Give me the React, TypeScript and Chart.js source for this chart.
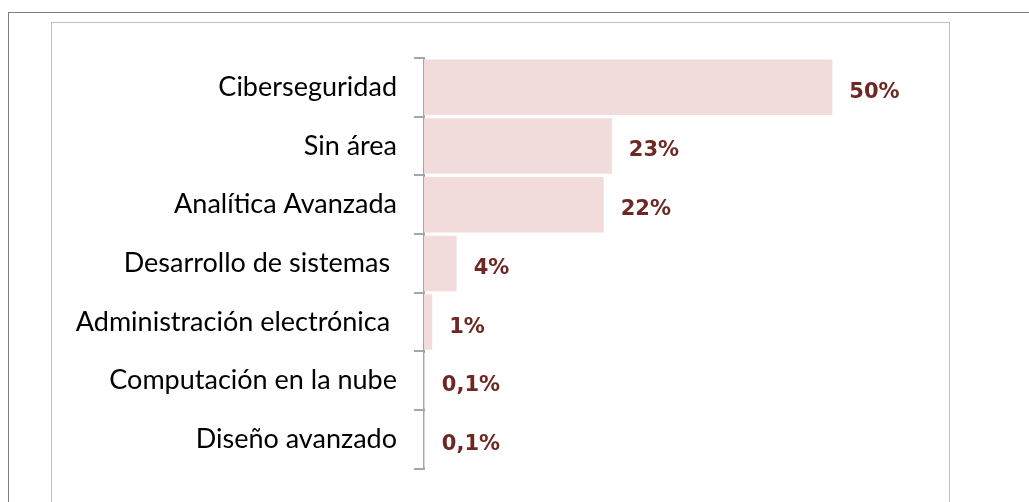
import React, { useEffect, useRef } from "react";
import { Chart, registerables } from "chart.js";

Chart.register(...registerables);

const categories = [
  "Ciberseguridad",
  "Sin área",
  "Analítica Avanzada",
  "Desarrollo de sistemas ",
  "Administración electrónica ",
  "Computación en la nube",
  "Diseño avanzado",
];
const values = [50, 23, 22, 4, 1, 0.1, 0.1];
const valueLabels = ["50%", "23%", "22%", "4%", "1%", "0,1%", "0,1%"];

const valueLabelPlugin = {
  id: "valueLabels",
  afterDatasetsDraw(chart: any) {
    const { ctx } = chart;
    const meta = chart.getDatasetMeta(0);
    ctx.save();
    ctx.font = "bold 21px 'DejaVu Sans'";
    ctx.fillStyle = "#6E2722";
    ctx.textAlign = "left";
    ctx.textBaseline = "middle";
    meta.data.forEach((bar: any, i: number) => {
      ctx.fillText(valueLabels[i], bar.x + 17, bar.y + 5);
    });
    ctx.restore();
  },
};

export default function App() {
  const canvasRef = useRef<HTMLCanvasElement>(null);

  useEffect(() => {
    if (!canvasRef.current) return;
    const chart = new Chart(canvasRef.current, {
      type: "bar",
      data: {
        labels: categories,
        datasets: [
          {
            data: values,
            backgroundColor: "#F2DCDB",
            borderWidth: 0,
            categoryPercentage: 1,
            barPercentage: 0.945,
          },
        ],
      },
      options: {
        indexAxis: "y",
        animation: false,
        responsive: false,
        maintainAspectRatio: false,
        layout: { padding: { top: 35, bottom: 29, right: 34, left: 0 } },
        plugins: {
          legend: { display: false },
          tooltip: { enabled: false },
        },
        scales: {
          x: { display: false, min: 0, max: 60 },
          y: {
            afterFit(scale: any) {
              scale.width = 372;
            },
            grid: {
              drawOnChartArea: false,
              offset: true,
              tickLength: 10,
              color: "#A6A6A6",
              lineWidth: 2,
            },
            border: { display: true, color: "#A6A6A6", width: 2 },
            ticks: {
              padding: 17,
              color: "#000000",
              font: { family: "Lato", size: 27 },
            },
          },
        },
      },
      plugins: [valueLabelPlugin],
    });
    return () => chart.destroy();
  }, []);

  return (
    <>
      <div
        style={{
          position: "fixed",
          left: 8,
          top: 12,
          right: 0,
          bottom: 0,
          borderTop: "1px solid #7F7F7F",
          borderLeft: "1px solid #7F7F7F",
          background: "#fff",
        }}
      />
      <div
        style={{
          position: "fixed",
          left: 51,
          top: 22,
          width: 897,
          bottom: 0,
          borderTop: "1px solid #BFBFBF",
          borderLeft: "1px solid #BFBFBF",
          borderRight: "1px solid #BFBFBF",
          background: "#fff",
        }}
      />
      <canvas
        ref={canvasRef}
        width={896}
        height={479}
        style={{ position: "fixed", left: 52, top: 23, width: 896, height: 479 }}
      />
    </>
  );
}
